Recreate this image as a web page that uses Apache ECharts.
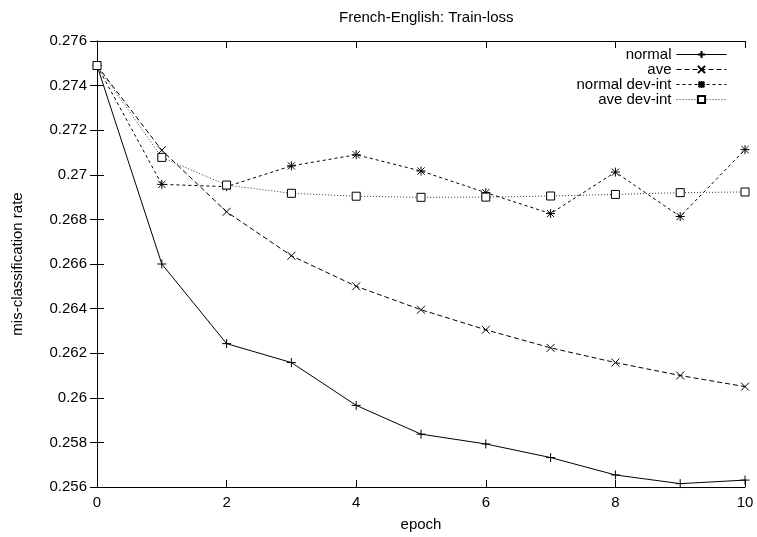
<!DOCTYPE html>
<html>
<head>
<meta charset="utf-8">
<script src="https://cdn.jsdelivr.net/npm/echarts@6/dist/echarts.min.js"></script>
<style>html,body{margin:0;padding:0;background:#fff}#c{width:757px;height:537px}</style>
</head>
<body>
<div id="c"></div>
<script>
var epochs = [0,1,2,3,4,5,6,7,8,9,10];
var normal      = [0.2749,0.2660,0.26243,0.26158,0.25966,0.25837,0.25793,0.25732,0.25654,0.25615,0.25631];
var ave         = [0.2749,0.2711,0.26834,0.26637,0.2650,0.26395,0.26305,0.26224,0.26158,0.2610,0.2605];
var normalDevInt= [0.2749,0.26957,0.26947,0.2704,0.2709,0.27017,0.2692,0.26826,0.27012,0.26813,0.27113];
var aveDevInt   = [0.2749,0.27078,0.26954,0.26917,0.26904,0.26899,0.2690,0.26905,0.26912,0.2692,0.26923];
var seriesNames = ['normal','ave','normal dev-int','ave dev-int'];
var titleText = 'French-English: Train-loss';
var xName = 'epoch';
var yName = 'mis-classification rate';

function pairs(arr){ return epochs.map(function(e,i){ return [e, arr[i]]; }); }

var FONT = 'Liberation Sans, Arial, Helvetica, sans-serif';
var chart = echarts.init(document.getElementById('c'), null, {renderer:'canvas'});
var axisCommon = {
  axisLine:{show:true,lineStyle:{color:'#000',width:1}},
  axisTick:{show:true,inside:true,length:7,lineStyle:{color:'#000',width:1}},
  splitLine:{show:false}
};
function mk(name, data, symbol, size, dash, lineColor){
  return {
    name:name, type:'line', data:pairs(data), xAxisIndex:0, yAxisIndex:0,
    symbol:symbol, symbolSize:size, showSymbol:true,
    lineStyle:{color:lineColor||'#000', width:1, type:dash},
    itemStyle:{color:'#000', borderColor:'#000', borderWidth:1},
    clip:false, animation:false
  };
}
chart.setOption({
  animation:false,
  backgroundColor:'#fff',
  title:{text:titleText, left:334, top:5, textStyle:{fontFamily:FONT,fontSize:15,fontWeight:'normal',color:'#000'}},
  legend:{
    orient:'vertical', right:30, top:47, align:'right', padding:0,
    itemWidth:50, itemHeight:9, itemGap:0,
    lineStyle:{width:1},
    textStyle:{fontFamily:FONT,fontSize:15,color:'#000'},
    data:seriesNames
  },
  grid:{left:97,right:12,top:41,bottom:48},
  xAxis:[
    Object.assign({type:'value',min:0,max:10,interval:2,position:'bottom',
      name:xName,nameLocation:'middle',nameGap:30,
      nameTextStyle:{fontFamily:FONT,fontSize:15,color:'#000'},
      axisLabel:{fontFamily:FONT,fontSize:15,color:'#000',margin:8}}, axisCommon),
    Object.assign({type:'value',min:0,max:10,interval:2,position:'top',axisLabel:{show:false}}, axisCommon)
  ],
  yAxis:[
    Object.assign({type:'value',min:0.256,max:0.276,interval:0.002,position:'left',
      name:yName,nameLocation:'middle',nameGap:72,nameRotate:90,
      nameTextStyle:{fontFamily:FONT,fontSize:15,color:'#000'},
      axisLabel:{fontFamily:FONT,fontSize:15,color:'#000',margin:10,
        formatter:function(v){return String(parseFloat(v.toFixed(3)));}}}, axisCommon),
    Object.assign({type:'value',min:0.256,max:0.276,interval:0.002,position:'right',axisLabel:{show:false}}, axisCommon)
  ],
  series:[
    mk(seriesNames[0], normal, 'path://M0,5L10,5M5,0L5,10', 9, 'solid'),
    mk(seriesNames[1], ave, 'path://M0,0L10,10M10,0L0,10', 8, [5,3]),
    mk(seriesNames[2], normalDevInt, 'path://M0,5L10,5M5,0L5,10M1,1L9,9M9,1L1,9', 9, [3,3]),
    (function(){var s = mk(seriesNames[3], aveDevInt, 'rect', 8, [1,2], '#333');
      s.itemStyle = {color:'#fff', borderColor:'#000', borderWidth:1}; return s;})()
  ]
});
</script>
</body>
</html>
